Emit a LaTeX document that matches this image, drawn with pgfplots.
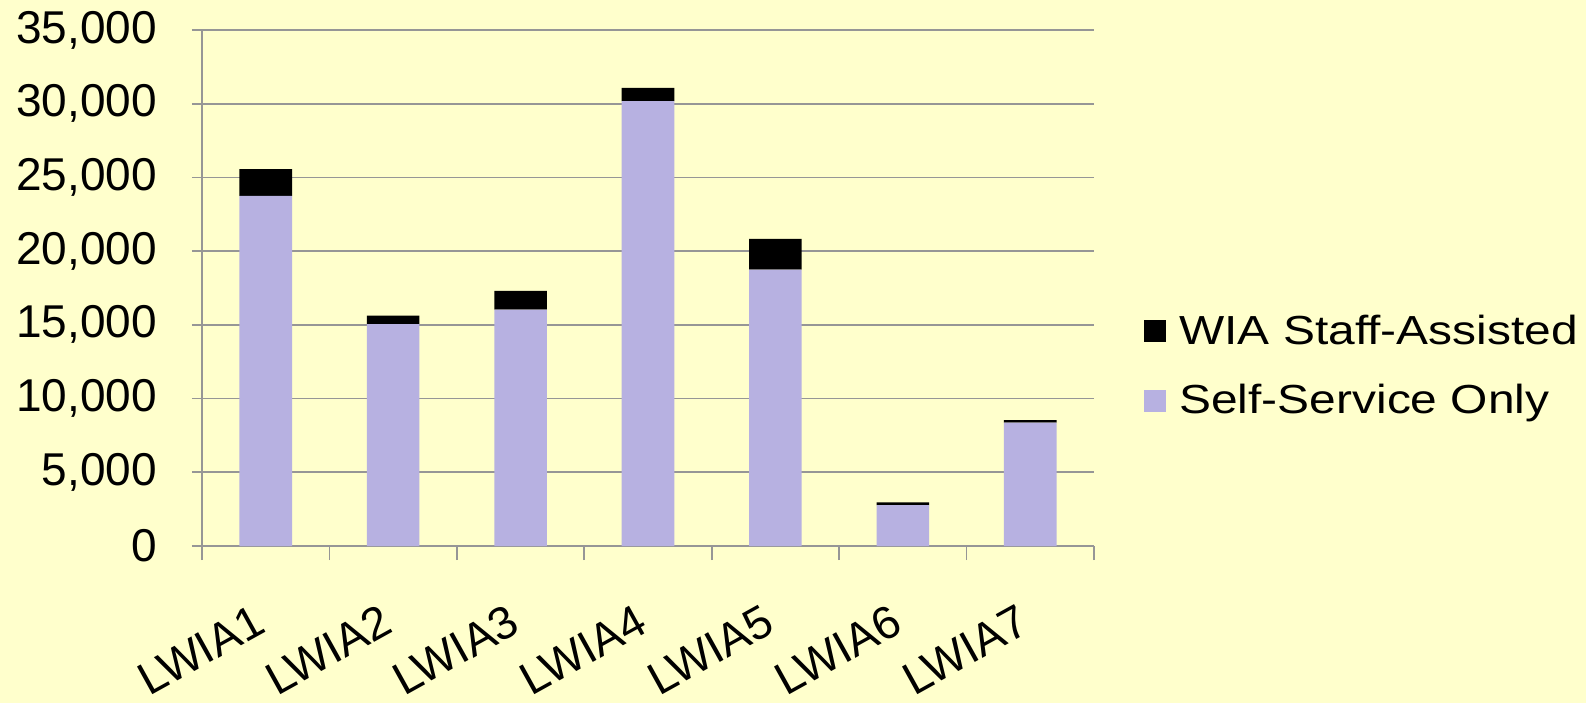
\documentclass[border=0pt]{standalone}
\usepackage{pgfplots}
\pgfplotsset{compat=1.18}
\usepackage{fontspec}
\setmainfont{Liberation Sans}
\newfontfamily\legfont{Liberation Sans}[FakeStretch=1.18]
\definecolor{bgc}{RGB}{255,255,204}
\definecolor{barc}{RGB}{183,177,225}
\definecolor{gridc}{RGB}{150,150,150}
\begin{document}
\begin{tikzpicture}
\fill[bgc,use as bounding box] (0,0) rectangle (793pt,351.5pt);
\begin{axis}[
  at={(101pt,78.5pt)}, anchor=south west,
  scale only axis, width=446pt, height=258pt,
  ybar stacked, bar width=26.3pt,
  xmin=-0.5, xmax=6.5, ymin=0, ymax=35000,
  axis x line=bottom, axis y line=left,
  axis line style={draw=gridc, line width=0.8pt, -},
  ymajorgrids, grid style={gridc, line width=0.8pt},
  ytick={0,5000,...,35000},
  scaled y ticks=false,
  /pgf/number format/1000 sep={,},
  /pgf/number format/assume math mode=true,
  xtick={0,...,6},
  xticklabels={LWIA1,LWIA2,LWIA3,LWIA4,LWIA5,LWIA6,LWIA7},
  minor xtick={-0.5,0.5,...,6.5},
  major x tick style={draw=none},
  minor x tick style={draw=gridc, line width=0.8pt},
  major y tick style={draw=gridc, line width=0.8pt},
  tick align=outside,
  major tick length=5pt, minor tick length=7pt,
  ticklabel style={font=\fontsize{23}{27}\selectfont},
  yticklabel style={xshift=-14pt},
  xticklabel style={inner sep=0pt, yshift=-37.5pt, xshift=1pt, rotate=29, anchor=base east},
  reverse legend, legend cell align=left,
  legend style={at={(1,0.349)}, anchor=west, xshift=22pt, draw=none, fill=none,
    font=\legfont\fontsize{20.3}{24}\selectfont, row sep=14.5pt},
  legend image code/.code={\fill[#1] (0pt,-5.5pt) rectangle (11pt,5.5pt); \path (15.5pt,0pt);},
]
\addplot[fill=barc, draw=none] coordinates {(0,23750) (1,15050) (2,16040) (3,30180) (4,18740) (5,2780) (6,8370)};
\addlegendentry{Self-Service Only}
\addplot[fill=black, draw=none] coordinates {(0,1810) (1,580) (2,1260) (3,890) (4,2100) (5,180) (6,170)};
\addlegendentry{WIA Staff-Assisted}
\end{axis}
\end{tikzpicture}
\end{document}
